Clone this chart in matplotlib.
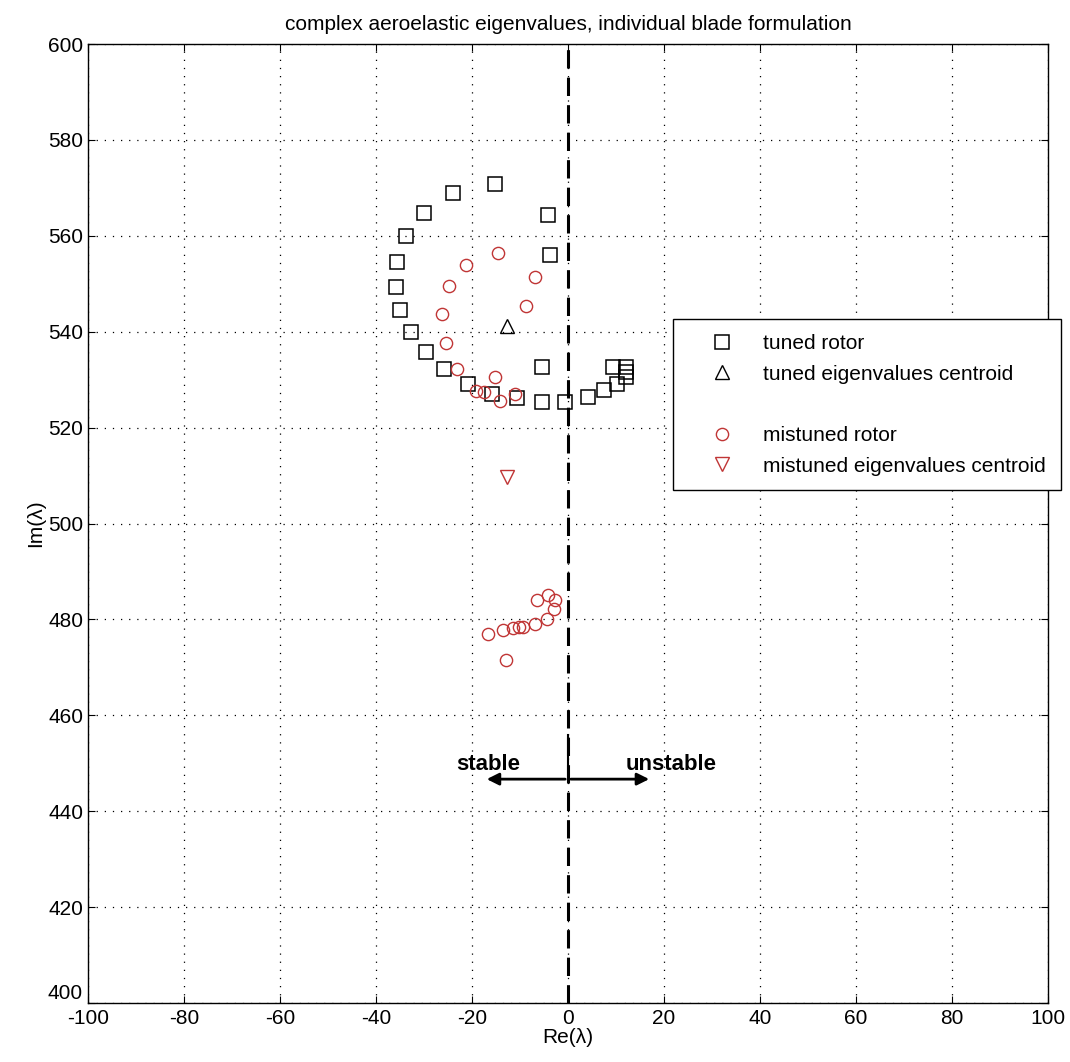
#libs
import matplotlib
matplotlib.use('Agg')
import matplotlib.pyplot as plt
from matplotlib.lines import Line2D

plt.rcParams['font.family'] = ['Liberation Sans', 'DejaVu Sans']
plt.rcParams['axes.unicode_minus'] = False

#data
tuned_re = [-15.2, -24.0, -29.9, -33.8, -35.6, -35.9, -34.9, -32.8, -29.6, -25.8,
            -20.9, -15.9, -10.7, -5.4, -0.6, 4.2, 7.5, 10.3, 12.1, 12.1,
            12.1, 9.3, -5.4, -3.8, -4.1]
tuned_im = [570.8, 569.0, 564.8, 559.9, 554.6, 549.4, 544.6, 539.9, 535.8, 532.3,
            529.1, 527.0, 526.1, 525.3, 525.3, 526.3, 527.8, 529.2, 530.6, 531.6,
            532.7, 532.7, 532.7, 556.0, 564.4]
tuned_centroid = (-12.8, 541.2)

mist_re = [-14.5, -21.3, -6.9, -24.8, -8.8, -26.2, -25.4, -23.1, -19.2, -15.2,
           -14.2, -11.0, -6.5, -4.1, -2.6, -2.9, -4.4, -6.9, -9.3, -10.3,
           -11.5, -13.6, -16.6, -12.9, -17.5]
mist_im = [556.4, 553.9, 551.5, 549.5, 545.3, 543.7, 537.6, 532.3, 527.6, 530.6,
           525.6, 527.1, 484.0, 485.2, 484.0, 482.1, 480.2, 479.1, 478.5, 478.4,
           478.3, 477.7, 477.0, 471.5, 527.5]
mist_centroid = (-12.8, 509.7)

xticks = list(range(-100, 101, 20))
yticks = list(range(400, 601, 20))

#figure
fig = plt.figure(figsize=(10.70, 10.62), dpi=100)
ax = fig.add_axes([0.0822, 0.0555, 0.8972, 0.903])

red = '#c03535'
ax.plot(tuned_re, tuned_im, 's', ms=9.5, mfc='none', mec='k', mew=1.1, label='tuned rotor')
ax.plot(*tuned_centroid, '^', ms=10, mfc='none', mec='k', mew=1.0, label='tuned eigenvalues centroid')
ax.plot(mist_re, mist_im, 'o', ms=8.8, mfc='none', mec=red, mew=1.0, label='mistuned rotor')
ax.plot(*mist_centroid, 'v', ms=10, mfc='none', mec=red, mew=1.0, label='mistuned eigenvalues centroid')

#stability boundary
ax.axvline(0, color='k', ls=(0, (6, 3)), lw=2.2, zorder=1)

#stable / unstable arrows
ax.plot([0, 0], [446.5, 456], color='k', lw=1.5)
ax.annotate('', xy=(-17.5, 446.7), xytext=(0, 446.7),
            arrowprops=dict(arrowstyle='-|>', color='k', lw=2, mutation_scale=18))
ax.annotate('', xy=(17.5, 446.7), xytext=(0, 446.7),
            arrowprops=dict(arrowstyle='-|>', color='k', lw=2, mutation_scale=18))
ax.text(-16.6, 449.8, 'stable', ha='center', va='center', fontsize=16, fontweight='bold')
ax.text(21.5, 449.8, 'unstable', ha='center', va='center', fontsize=16, fontweight='bold')

ax.set_xlim(-100, 100)
ax.set_ylim(400, 600)
ax.set_xticks(xticks)
ax.set_yticks(yticks)
ax.tick_params(direction='in', top=True, right=True, labelsize=15, length=5)
ax.tick_params(axis='x', pad=4)
ax.get_yticklabels()[0].set_va('bottom')
ax.grid(True, color='k', ls=(0, (1, 5.5)), lw=0.9)
for s in ax.spines.values():
    s.set_linewidth(1.0)

ax.set_title('complex aeroelastic eigenvalues, individual blade formulation', fontsize=15, pad=10)
ax.set_xlabel('Re(λ)', fontsize=15, labelpad=0)
ax.set_ylabel('Im(λ)', fontsize=15, labelpad=2)

#legend with blank row between tuned and mistuned
h, l = ax.get_legend_handles_labels()
blank = Line2D([], [], ls='none', marker='none')
handles = [h[0], h[1], blank, h[2], h[3]]
labels = [l[0], l[1], ' ', l[2], l[3]]
leg = ax.legend(handles, labels, loc='upper left', bbox_to_anchor=(0.609, 0.713),
                fontsize=15, frameon=True, fancybox=False, edgecolor='k',
                handlelength=3.3, handletextpad=0.36, borderpad=0.7, labelspacing=0.56,
                borderaxespad=0, framealpha=1)
leg.get_frame().set_linewidth(1.0)

plt.savefig('out.png', dpi=100)
